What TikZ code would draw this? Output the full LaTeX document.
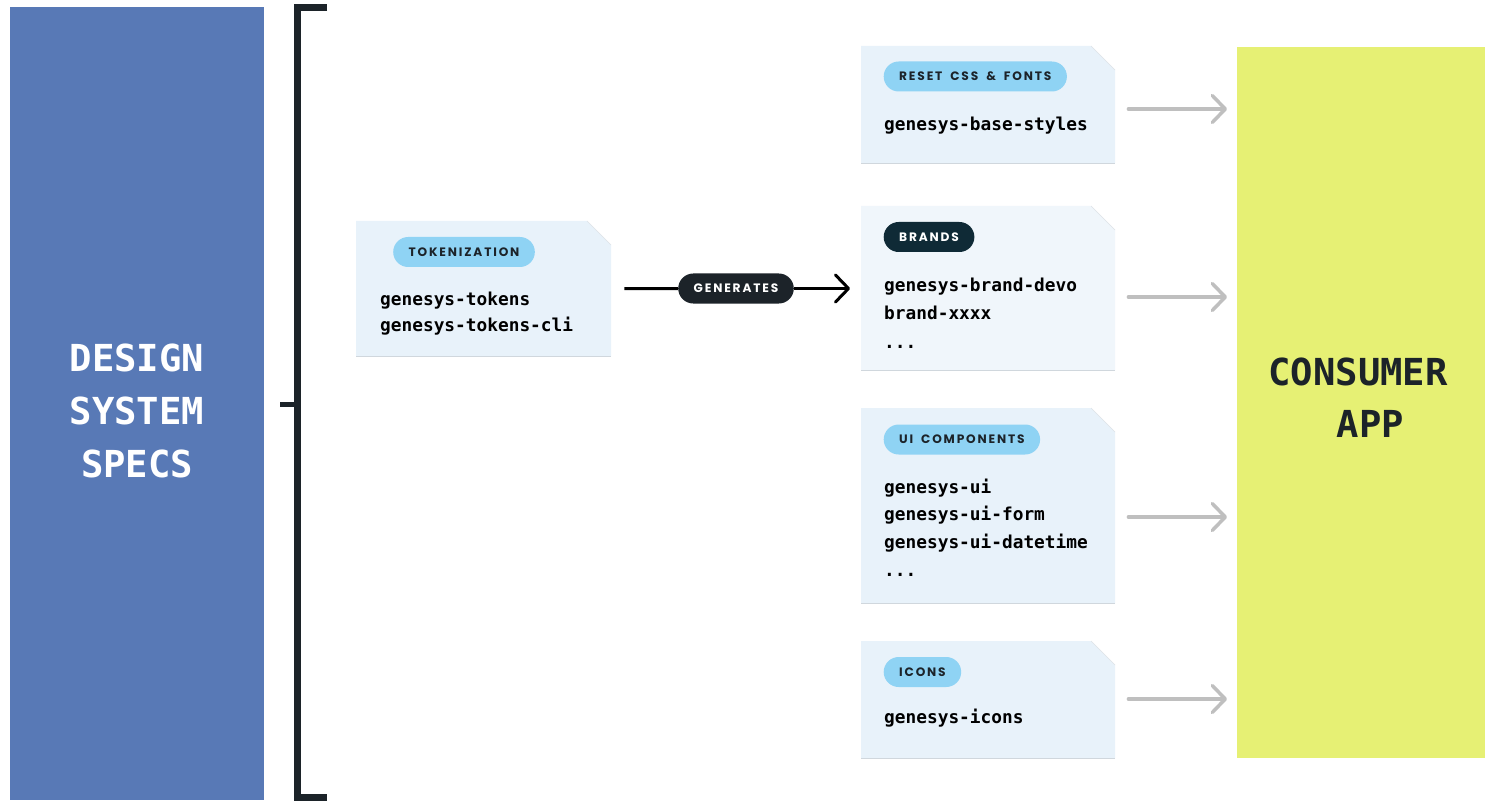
\documentclass[tikz,border=0pt]{standalone}
\usepackage{fontspec}
\setmainfont{DejaVu Sans}
\newfontfamily\codefont{DejaVu Sans Mono}
\newfontfamily\pillfont{Poppins}[LetterSpace=15, WordSpace=1.8]
\usetikzlibrary{arrows.meta}
\definecolor{specblue}{HTML}{5879B6}
\definecolor{appyellow}{HTML}{E6F074}
\definecolor{boxfill}{HTML}{E8F2FA}
\definecolor{boxfillb}{HTML}{F0F6FB}
\definecolor{pillblue}{HTML}{8FD3F4}
\definecolor{ink}{HTML}{1C2329}
\definecolor{navy}{HTML}{0F2A36}
\definecolor{arrowgrey}{HTML}{BFBFBF}
\definecolor{edgegrey}{HTML}{D0D7DD}
\tikzset{
  pill/.style={anchor=west, minimum height=30pt, inner xsep=15.5pt, inner ysep=0pt,
    rounded corners=15pt, fill=pillblue, text=ink,
    font=\pillfont\bfseries\fontsize{12.2}{12}\selectfont},
  darkpill/.style={pill, fill=navy, text=white},
  genpill/.style={pill, anchor=center, fill=ink, text=white},
  code/.style={anchor=base west, inner sep=0pt, text=black,
    font=\codefont\bfseries\fontsize{17.8}{20}\selectfont},
  title/.style={anchor=base, inner sep=0pt,
    font=\codefont\bfseries\fontsize{37.2}{40}\selectfont},
  feed/.style={draw=arrowgrey, line width=3.5pt, line cap=round,
    -{Straight Barb[length=13pt, width=27pt, line width=3.5pt, round]}},
  gen/.style={draw=black, line width=3pt,
    -{Straight Barb[length=13pt, width=27pt, line width=3pt, round]}},
}
\newcommand\foldbox[6]{%
  \fill[#6] (#2,#3) -- (#4-24,#3) -- (#4,#3+24) -- (#4,#5) -- (#2,#5) -- cycle;
  \draw[edgegrey, line width=0.8pt] (#2,#5) -- (#4,#5);
  \draw[edgegrey!70, line width=0.6pt] (#4-24,#3) -- (#4,#3+24);
  \node[inner sep=0pt, minimum width={(#4-#2)*1pt}, minimum height={(#5-#3)*1pt},
    anchor=north west] (#1) at (#2,#3) {};
}
\begin{document}
\begin{tikzpicture}[x=1pt, y=-1pt]
\useasboundingbox (0,0) rectangle (1485,802);
\fill[white] (0,0) rectangle (1485,802);

% design system specs
\node[fill=specblue, inner sep=0pt, minimum width=254pt, minimum height=793pt,
  anchor=north west] (spec) at (10,7) {};
\node[title, text=white] (specA) at (137,371) {DESIGN};
\node[title, text=white] (specB) at (137,424) {SYSTEM};
\node[title, text=white] (specC) at (137,477) {SPECS};

% bracket
\coordinate (brT) at (327,8);
\coordinate (brB) at (327,797);
\coordinate (brTick) at (280,404.5);
\draw[ink, line width=7pt] (brT) -- (297,8) -- (297,797) -- (brB);
\draw[ink, line width=5pt] (brTick) -- (297,404.5);

% consumer app
\node[fill=appyellow, inner sep=0pt, minimum width=248pt, minimum height=711pt,
  anchor=north west] (app) at (1237,47) {};
\node[title, text=ink] (appA) at (1358,385) {CONSUMER};
\node[title, text=ink] (appB) at (1370.5,437) {APP};

% tokenization
\foldbox{tok}{356}{221}{611}{356}{boxfill}
\node[pill] (tokpill) at (393,252) {TOKENIZATION};
\node[code] (tok1) at (380,305.5) {genesys-tokens};
\node[code] (tok2) at (380,331) {genesys-tokens-cli};

% right boxes
\foldbox{b1}{861}{46}{1115}{163}{boxfill}
\node[pill] (p1) at (883.5,76.5) {RESET CSS \& FONTS};
\node[code] (c11) at (884,130.5) {genesys-base-styles};

\foldbox{b2}{861}{206}{1115}{370}{boxfillb}
\node[darkpill] (p2) at (883.5,237) {BRANDS};
\node[code] (c21) at (884,291.5) {genesys-brand-devo};
\node[code] (c22) at (884,319.5) {brand-xxxx};
\node[code] (c23) at (884,348) {...};

\foldbox{b3}{861}{408}{1115}{603}{boxfill}
\node[pill] (p3) at (883.5,439.5) {UI COMPONENTS};
\node[code] (c31) at (884,493) {genesys-ui};
\node[code] (c32) at (884,520.5) {genesys-ui-form};
\node[code] (c33) at (884,548) {genesys-ui-datetime};
\node[code] (c34) at (884,576) {...};

\foldbox{b4}{861}{641}{1115}{758}{boxfill}
\node[pill] (p4) at (883.5,672) {ICONS};
\node[code] (c41) at (884,723) {genesys-icons};

% generates
\node[genpill] (genp) at (736,288.5) {GENERATES};
\draw[gen, -] (tok.east) ++(13,0) -- (genp.west);
\draw[gen] (genp.east) -- ([xshift=-11pt]b2.west |- genp.east);

% feeds
\coordinate (y1) at (0,109);
\coordinate (y2) at (0,297);
\coordinate (y3) at (0,517);
\coordinate (y4) at (0,699);
\draw[feed, shorten <=13pt, shorten >=10pt] (b1.east |- y1) -- (app.west |- y1);
\draw[feed, shorten <=13pt, shorten >=10pt] (b2.east |- y2) -- (app.west |- y2);
\draw[feed, shorten <=13pt, shorten >=10pt] (b3.east |- y3) -- (app.west |- y3);
\draw[feed, shorten <=13pt, shorten >=10pt] (b4.east |- y4) -- (app.west |- y4);
\end{tikzpicture}
\end{document}
